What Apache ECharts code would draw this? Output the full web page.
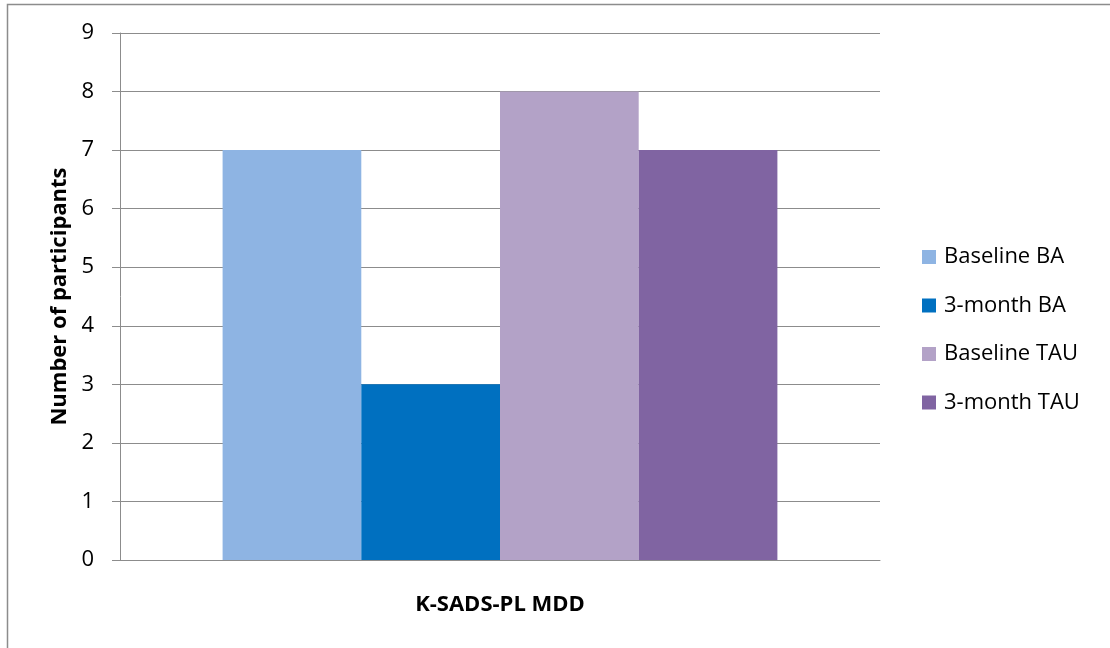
<!DOCTYPE html>
<html>
<head>
<meta charset="utf-8">
<script src="https://cdn.jsdelivr.net/npm/echarts@6/dist/echarts.min.js"></script>
<style>
  html, body { margin: 0; padding: 0; background: #fff; }
  #chart { width: 1110px; height: 648px; }
</style>
</head>
<body>
<div id="chart"></div>
<script>
// Participants meeting K-SADS-PL MDD criteria, by group and time point
const categories = ['K-SADS-PL MDD'];
const seriesNames = ['Baseline BA', '3-month BA', 'Baseline TAU', '3-month TAU'];
const baselineBA = [7];
const threeMonthBA = [3];
const baselineTAU = [8];
const threeMonthTAU = [7];
const yTicks = [0, 1, 2, 3, 4, 5, 6, 7, 8, 9];

const colors = ['#8EB4E3', '#0070C0', '#B3A2C7', '#8064A2'];
const valueLists = [baselineBA, threeMonthBA, baselineTAU, threeMonthTAU];
const FONT = 'Open Sans';

const chart = echarts.init(document.getElementById('chart'), null, { renderer: 'canvas' });

chart.setOption({
  animation: false,
  backgroundColor: '#ffffff',
  textStyle: { fontFamily: FONT, color: '#000' },
  graphic: [{
    type: 'rect',
    shape: { x: 7.5, y: 4.5, width: 1200, height: 800 },
    style: { fill: 'none', stroke: '#8c8c8c', lineWidth: 1.5 },
    silent: true,
    z: -1
  }],
  grid: { left: 120, right: 230, top: 33, bottom: 88, containLabel: false },
  legend: {
    orient: 'vertical',
    left: 917,
    top: 240,
    itemWidth: 14,
    itemHeight: 14,
    itemGap: 24.5,
    icon: 'rect',
    textStyle: { fontFamily: FONT, fontSize: 22, lineHeight: 24, color: '#000', padding: [0, 0, 0, 3] },
    data: seriesNames
  },
  xAxis: {
    type: 'category',
    data: categories,
    name: categories[0],
    nameLocation: 'middle',
    nameGap: 34,
    nameTextStyle: { fontFamily: FONT, fontSize: 22, fontWeight: 'bold', color: '#000' },
    axisLine: { lineStyle: { color: '#8c8c8c', width: 1 } },
    axisTick: { show: false },
    axisLabel: { show: false },
    splitLine: { show: false }
  },
  yAxis: {
    type: 'value',
    min: yTicks[0],
    max: yTicks[yTicks.length - 1],
    interval: 1,
    name: 'Number of participants',
    nameLocation: 'middle',
    nameGap: 48,
    nameTextStyle: { fontFamily: FONT, fontSize: 22, fontWeight: 'bold', color: '#000' },
    axisLine: { show: true, lineStyle: { color: '#8c8c8c', width: 1 } },
    axisTick: { show: true, length: 8, lineStyle: { color: '#8c8c8c' } },
    axisLabel: { fontFamily: FONT, fontSize: 22, color: '#000', margin: 26 },
    splitLine: { show: true, lineStyle: { color: '#8c8c8c', width: 1 } }
  },
  series: seriesNames.map((name, i) => ({
    name: name,
    type: 'bar',
    data: valueLists[i],
    itemStyle: { color: colors[i] },
    barGap: '0%',
    barCategoryGap: '27%',
    z: 1
  }))
});
</script>
</body>
</html>
